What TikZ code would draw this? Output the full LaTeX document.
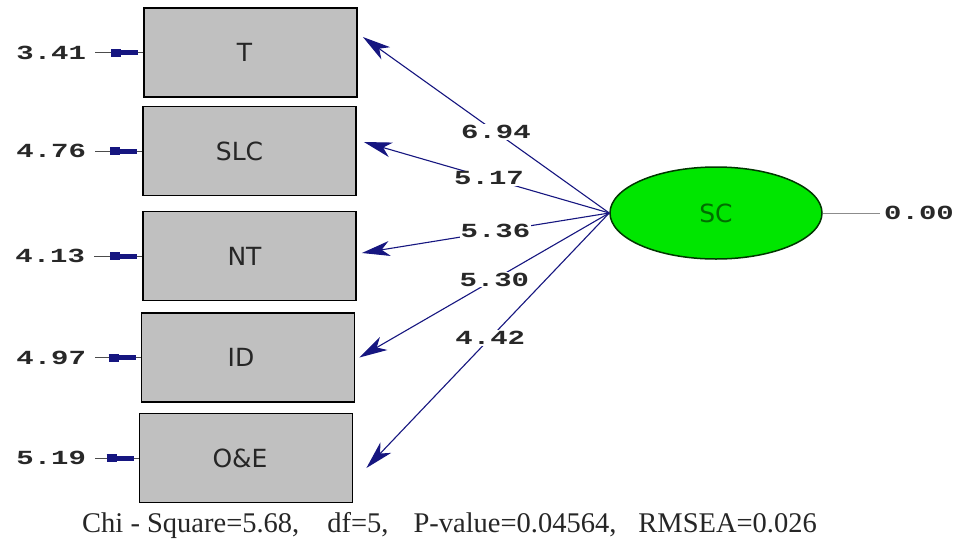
\documentclass[tikz,border=0pt]{standalone}
\usepackage{graphicx}
\usepackage{fontspec}
\setmainfont{Liberation Serif}
\newfontfamily\boxfont{DejaVu Sans}
\newfontfamily\numfont{Liberation Mono}
\usetikzlibrary{arrows.meta,shapes.geometric}

\definecolor{boxgray}{RGB}{192,192,192}
\definecolor{latgreen}{RGB}{0,230,0}
\definecolor{latdark}{RGB}{0,110,0}
\definecolor{pathblue}{RGB}{22,22,128}
\definecolor{numgray}{RGB}{40,40,40}

% LISREL-style wide monospace numbers
\newcommand{\lisnum}[1]{\scalebox{1.45}[1]{\numfont\bfseries\fontsize{20}{20}\selectfont #1}}

\begin{document}
\begin{tikzpicture}[x=1pt,y=-1pt,
  obs/.style={draw=black, line width=1.8pt, fill=boxgray, minimum width=213pt,
              minimum height=89pt, inner sep=0pt},
  obstext/.style={font=\boxfont\fontsize{25}{25}\selectfont, text=black!85},
  latent/.style={ellipse, draw=latdark!50!black, line width=1.5pt, fill=latgreen,
                 minimum width=212pt, minimum height=92pt, inner sep=0pt,
                 font=\boxfont\fontsize{25}{25}\selectfont, text=latdark},
  errlbl/.style={anchor=east, inner sep=0pt, outer sep=0pt, text=numgray},
  errline/.style={draw=black!70, line width=1pt, shorten <=9pt},
  errtip/.style={draw=pathblue, line width=5pt},
  errtipwide/.style={draw=pathblue, line width=8pt},
  load/.style={draw=pathblue, line width=1.1pt,
               -{Stealth[length=28pt,width=15pt,inset=8pt]}},
  loadlbl/.style={fill=white, inner sep=1pt, text=numgray}
]
\useasboundingbox[fill=white] (0,0) rectangle (956,542);

% observed indicators
\node[obs, label={[obstext,xshift=-6pt]center:T}]   (T)   at (250.5,52.5) {};
\node[obs, label={[obstext,xshift=-10pt]center:SLC}] (SLC) at (249.5,151) {};
\node[obs, label={[obstext,xshift=-5pt]center:NT}]  (NT)  at (249.5,256) {};
\node[obs, label={[obstext,xshift=-7pt]center:ID}]  (ID)  at (248,357.5) {};
\node[obs, label={[obstext,xshift=-6pt]center:O\&E}] (OE) at (246,458) {};

% latent factor
\node[latent] (SC) at (716,213) {SC};
\node[anchor=west, inner sep=0pt, text=numgray] (v0) at (884,213) {\lisnum{0.00}};
\draw[draw=black!45, line width=0.9pt] (SC.east) -- ([xshift=-4pt]v0.west);

% error variances
\node[errlbl] (e1) at (86,52.5)  {\lisnum{3.41}};
\node[errlbl] (e2) at (86,151)   {\lisnum{4.76}};
\node[errlbl] (e3) at (85,256)   {\lisnum{4.13}};
\node[errlbl] (e4) at (86,357.5) {\lisnum{4.97}};
\node[errlbl] (e5) at (86,458)   {\lisnum{5.19}};

\foreach \e/\b in {e1/T, e2/SLC, e3/NT, e4/ID, e5/OE}{
  \draw[errline] (\e.east) -- (\b.west |- \e.east);
  \draw[errtip] ([xshift=-24pt]\b.west) -- ([xshift=-5pt]\b.west);
  \draw[errtipwide] ([xshift=-32pt]\b.west) -- ([xshift=-22pt]\b.west);
}

% arrow end points beside the boxes
\coordinate (tT)   at ([xshift=5pt,yshift=15.5pt]T.east);
\coordinate (tSLC) at ([xshift=7pt,yshift=9pt]SLC.east);
\coordinate (tNT)  at ([xshift=5pt,yshift=3pt]NT.east);
\coordinate (tID)  at ([xshift=4pt,yshift=0pt]ID.east);
\coordinate (tOE)  at ([xshift=13pt,yshift=-10pt]OE.east);

% factor loadings
\draw[load] (SC.west) -- node[loadlbl, pos=0.46] {\lisnum{6.94}} (tT);
\draw[load] (SC.west) -- node[loadlbl, pos=0.49] {\lisnum{5.17}} (tSLC);
\draw[load] (SC.west) -- node[loadlbl, pos=0.46] {\lisnum{5.36}} (tNT);
\draw[load] (SC.west) -- node[loadlbl, pos=0.46] {\lisnum{5.30}} (tID);
\draw[load] (SC.west) -- node[loadlbl, pos=0.49] {\lisnum{4.42}} (tOE);

% fit statistics
\node[anchor=base west, inner sep=0pt, font=\fontsize{28.5}{28.5}\selectfont, text=black!85]
  (fit) at (82,532)
  {Chi - Square=5.68,\hspace{28pt}df=5,\hspace{25pt}P-value=0.04564,\hspace{22pt}RMSEA=0.026};
\end{tikzpicture}
\end{document}
